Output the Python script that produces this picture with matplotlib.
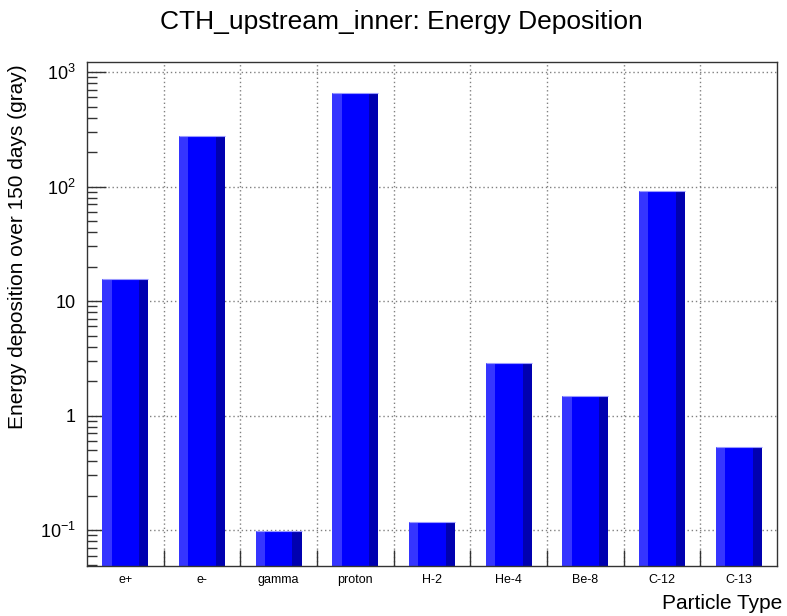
"""Energy deposition per particle type, ROOT-style shaded bars on log scale."""
import numpy as np
import matplotlib
matplotlib.use("Agg")
import matplotlib.pyplot as plt
import matplotlib.ticker as mticker

plt.rcParams["font.family"] = ["Liberation Sans", "DejaVu Sans"]

particles = ["e+", "e-", "gamma", "proton", "H-2", "He-4", "Be-8", "C-12", "C-13"]
deposition = [15.6, 278, 0.098, 650, 0.117, 2.9, 1.47, 92, 0.536]

light = "#3535ff"
mid = "#0000ff"
dark = "#0000b0"

fig = plt.figure(figsize=(7.87, 6.16), dpi=100)
ax = fig.add_axes([0.1105, 0.0812, 0.877, 0.818])

ymin, ymax = 0.0486, 1222
x = np.arange(len(particles))
vals = np.array(deposition)
base = ymin * 0.5

# bar: offset 0.2, width 0.6, split in light / mid / dark strips
ax.bar(x + 0.2, vals - base, width=0.12, bottom=base, align="edge", color=light, lw=0, zorder=3)
ax.bar(x + 0.32, vals - base, width=0.36, bottom=base, align="edge", color=mid, lw=0, zorder=3)
ax.bar(x + 0.68, vals - base, width=0.12, bottom=base, align="edge", color=dark, lw=0, zorder=3)
ax.hlines(vals, x + 0.2, x + 0.8, color="#9a9aff", lw=0.8, zorder=4)

ax.set_yscale("log")
ax.set_ylim(ymin, ymax)
ax.set_xlim(0, len(particles))

# grid at bin edges and decades
for e in range(1, len(particles)):
    ax.axvline(e, color="#808080", lw=1, ls=(0, (1, 2)), zorder=1)
for d in [0.1, 1, 10, 100, 1000]:
    ax.axhline(d, color="#808080", lw=1, ls=(0, (1, 2)), zorder=1)

ax.xaxis.set_major_locator(mticker.FixedLocator(np.arange(1, len(particles))))
ax.xaxis.set_major_formatter(mticker.NullFormatter())
ax.xaxis.set_minor_locator(mticker.FixedLocator(x + 0.5))
ax.xaxis.set_minor_formatter(mticker.FixedFormatter(particles))
ax.tick_params(axis="x", which="major", direction="in", length=11.5, width=1, color="#333333")
ax.tick_params(axis="x", which="minor", length=0, labelsize=9, pad=6)

ax.yaxis.set_major_locator(mticker.FixedLocator([0.1, 1, 10, 100, 1000]))
ax.yaxis.set_major_formatter(mticker.FixedFormatter(
    [r"$\mathregular{10^{-1}}$", "1", "10", r"$\mathregular{10^{2}}$", r"$\mathregular{10^{3}}$"]))
ax.yaxis.set_minor_locator(mticker.LogLocator(base=10, subs=np.arange(2, 10)))
ax.yaxis.set_minor_formatter(mticker.NullFormatter())
ax.tick_params(axis="y", which="major", direction="in", length=14, width=1, labelsize=13, pad=8, color="#333333")
ax.tick_params(axis="y", which="minor", direction="in", length=7, width=1, color="#333333")

for s in ax.spines.values():
    s.set_linewidth(1)
    s.set_color("#333333")
    s.set_zorder(5)

ax.set_ylabel("Energy deposition over 150 days (gray)", fontsize=15)
ax.yaxis.set_label_coords(-0.087, 0.995)
ax.yaxis.label.set_ha("right")
ax.set_xlabel("Particle Type", fontsize=15)
ax.xaxis.set_label_coords(1.008, -0.055)
ax.xaxis.label.set_ha("right")
fig.text(0.51, 0.965, "CTH_upstream_inner: Energy Deposition", fontsize=19,
         ha="center", va="center")

fig.savefig("out.png", dpi=100)
